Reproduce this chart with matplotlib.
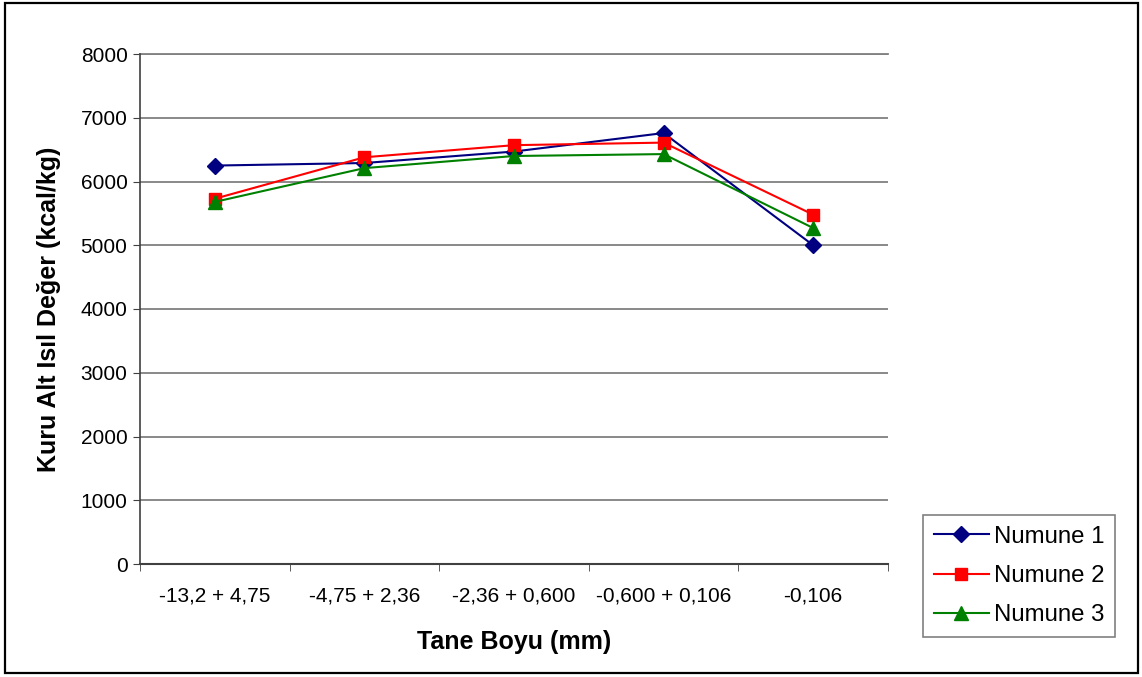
import matplotlib
matplotlib.use("Agg")
import matplotlib.pyplot as plt
from matplotlib.patches import Rectangle

plt.rcParams['font.family'] = ['Liberation Sans', 'DejaVu Sans']

categories = ["-13,2 + 4,75", "-4,75 + 2,36", "-2,36 + 0,600", "-0,600 + 0,106", "-0,106"]
numune1 = [6250, 6290, 6470, 6760, 5000]
numune2 = [5730, 6380, 6570, 6610, 5480]
numune3 = [5680, 6210, 6400, 6430, 5270]
y_ticks = [0, 1000, 2000, 3000, 4000, 5000, 6000, 7000, 8000]

fig = plt.figure(figsize=(11.42, 6.77), dpi=100)
ax = fig.add_axes([140/1142, 1-564/677, (888-140)/1142, (564-54)/677])

x = list(range(len(categories)))
ax.plot(x, numune1, color='#000080', marker='D', markersize=8, linewidth=1.5, label='Numune 1')
ax.plot(x, numune2, color='#FF0000', marker='s', markersize=8, linewidth=1.5, label='Numune 2')
ax.plot(x, numune3, color='#008000', marker='^', markersize=9.5, linewidth=1.5, label='Numune 3')

ax.set_xlim(-0.5, len(categories)-0.5)
ax.set_ylim(0, 8000)
ax.set_yticks(y_ticks)
ax.set_yticklabels([str(v) for v in y_ticks], fontsize=15)
ax.set_xticks(x)
ax.set_xticklabels(categories, fontsize=15)
ax.set_xticks([i - 0.5 for i in range(len(categories)+1)], minor=True)
ax.tick_params(axis='x', which='major', length=0, pad=16)
ax.tick_params(axis='x', which='minor', length=5, direction='out', color='#404040')
ax.tick_params(axis='y', length=5, direction='out', pad=4, color='#404040')

ax.grid(axis='y', color='#808080', linewidth=1.3)
ax.set_axisbelow(True)
for s in ['top', 'right']:
    ax.spines[s].set_visible(False)
ax.spines['left'].set_color('#404040')
ax.spines['bottom'].set_color('#404040')
ax.spines['left'].set_linewidth(1.2)
ax.spines['bottom'].set_linewidth(1.5)
ax.axhline(8000, color='#808080', linewidth=1.3, clip_on=False)

ax.set_xlabel('Tane Boyu (mm)', fontsize=18, fontweight='bold', labelpad=18)
ax.set_ylabel('Kuru Alt Isıl Değer (kcal/kg)', fontsize=18, fontweight='bold', labelpad=14)

leg = fig.legend(loc='upper left', bbox_to_anchor=(923/1142, 1-515/677), fontsize=17.3,
                 frameon=True, fancybox=False, edgecolor='#808080', framealpha=1,
                 handlelength=2.3, handletextpad=0.2, borderpad=0.45, labelspacing=0.72,
                 borderaxespad=0)
leg.get_frame().set_linewidth(1.2)

fig.patches.append(Rectangle((5/1142, 1-673/677), (1138-5)/1142, (673-3)/677,
                             transform=fig.transFigure, fill=False, edgecolor='black', linewidth=1.6))

fig.savefig('out.png', dpi=100)
